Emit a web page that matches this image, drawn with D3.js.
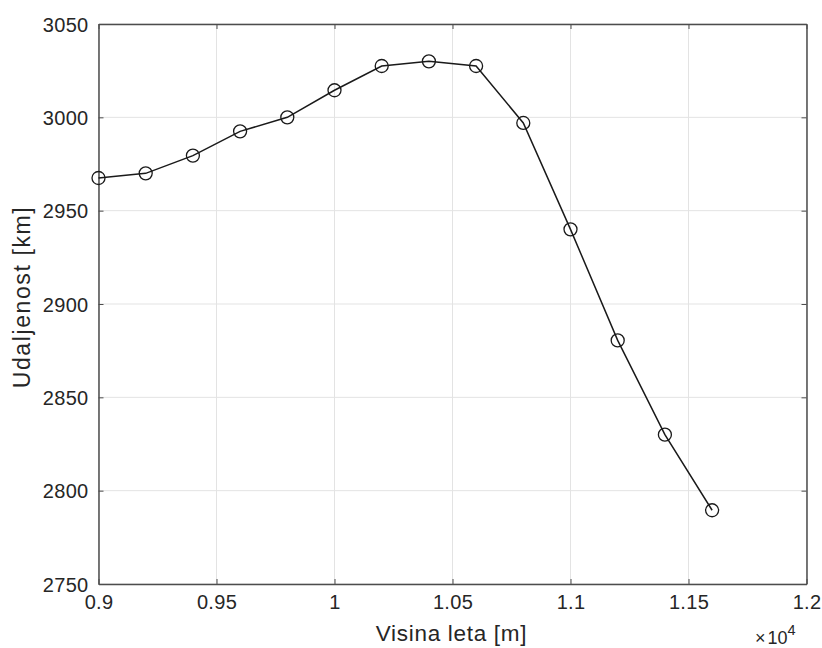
<!DOCTYPE html>
<html><head><meta charset="utf-8">
<script src="https://cdn.jsdelivr.net/npm/d3@7"></script>
<style>body{margin:0;background:#fff}svg{display:block}text{font-family:"Liberation Sans",Arial,sans-serif}</style>
</head><body>
<svg id="c" width="822" height="648"></svg>
<script>
const altitude = [0.90,0.92,0.94,0.96,0.98,1.00,1.02,1.04,1.06,1.08,1.10,1.12,1.14,1.16];
const distance = [2967.5,2970,2979.5,2992.5,3000,3014.5,3027.5,3030,3027.5,2997,2940,2880.5,2830,2789.5];
const xTicks = [0.9,0.95,1,1.05,1.1,1.15,1.2];
const xTickLabels = ["0.9","0.95","1","1.05","1.1","1.15","1.2"];
const yTicks = [2750,2800,2850,2900,2950,3000,3050];
const xLabel = "Visina leta [m]";
const yLabel = "Udaljenost [km]";

const svg = d3.select("#c");
const L=98.5, R=806.5, T=24, B=584;
const x = d3.scaleLinear().domain([0.9,1.2]).range([L,R]);
const y = d3.scaleLinear().domain([2750,3050]).range([B,T]);
const axisCol="#4d4d4d", txtCol="#262626";

// grid
svg.append("g").selectAll("line").data(xTicks).join("line")
  .attr("x1",d=>x(d)).attr("x2",d=>x(d)).attr("y1",T).attr("y2",B)
  .attr("stroke","#e3e3e3").attr("stroke-width",1);
svg.append("g").selectAll("line").data(yTicks).join("line")
  .attr("x1",L).attr("x2",R).attr("y1",d=>y(d)).attr("y2",d=>y(d))
  .attr("stroke","#e3e3e3").attr("stroke-width",1);

// axes
const xa = svg.append("g").attr("transform",`translate(0,${B})`)
  .call(d3.axisBottom(x).tickValues(xTicks).tickSizeInner(-5).tickSizeOuter(0).tickPadding(14).tickFormat((d,i)=>xTickLabels[i]));
const ya = svg.append("g").attr("transform",`translate(${L},0)`)
  .call(d3.axisLeft(y).tickValues(yTicks).tickSizeInner(-5).tickSizeOuter(0).tickPadding(10).tickFormat(d3.format("d")));
const xt = svg.append("g").attr("transform",`translate(0,${T})`)
  .call(d3.axisTop(x).tickValues(xTicks).tickSizeInner(-5).tickSizeOuter(0).tickFormat(""));
const yr = svg.append("g").attr("transform",`translate(${R},0)`)
  .call(d3.axisRight(y).tickValues(yTicks).tickSizeInner(-5).tickSizeOuter(0).tickFormat(""));
[xa,ya,xt,yr].forEach(g=>{
  g.selectAll("path").attr("stroke",axisCol).attr("stroke-width",1.5);
  g.selectAll("line").attr("stroke",axisCol).attr("stroke-width",1);
  g.selectAll("text").attr("fill",txtCol).attr("font-size",20).attr("letter-spacing",0.3);
});
xa.selectAll("text").attr("dy","0.55em");
ya.selectAll("text").attr("dy","0.35em");

// line
const pts = altitude.map((a,i)=>[a,distance[i]]);
svg.append("path").datum(pts)
  .attr("d",d3.line().x(d=>x(d[0])).y(d=>y(d[1])))
  .attr("fill","none").attr("stroke","#1a1a1a").attr("stroke-width",1.5);
svg.append("g").selectAll("circle").data(pts).join("circle")
  .attr("cx",d=>x(d[0])).attr("cy",d=>y(d[1])).attr("r",6.5)
  .attr("fill","none").attr("stroke","#1a1a1a").attr("stroke-width",1.3);

// labels
svg.append("text").attr("x",451.5).attr("y",641).attr("text-anchor","middle")
  .attr("font-size",22.5).attr("letter-spacing",0.7).attr("fill",txtCol).text(xLabel);
svg.append("text").attr("transform",`translate(30,297) rotate(-90)`).attr("text-anchor","middle")
  .attr("font-size",23).attr("letter-spacing",1.6).attr("fill",txtCol).text(yLabel);
const ex = svg.append("text").attr("x",755).attr("y",644).attr("font-size",18).attr("fill",txtCol);
ex.append("tspan").text("\u00d7");
ex.append("tspan").attr("dx",2).text("10");
ex.append("tspan").attr("dy",-9).attr("font-size",14.5).text("4");
</script>
</body></html>
